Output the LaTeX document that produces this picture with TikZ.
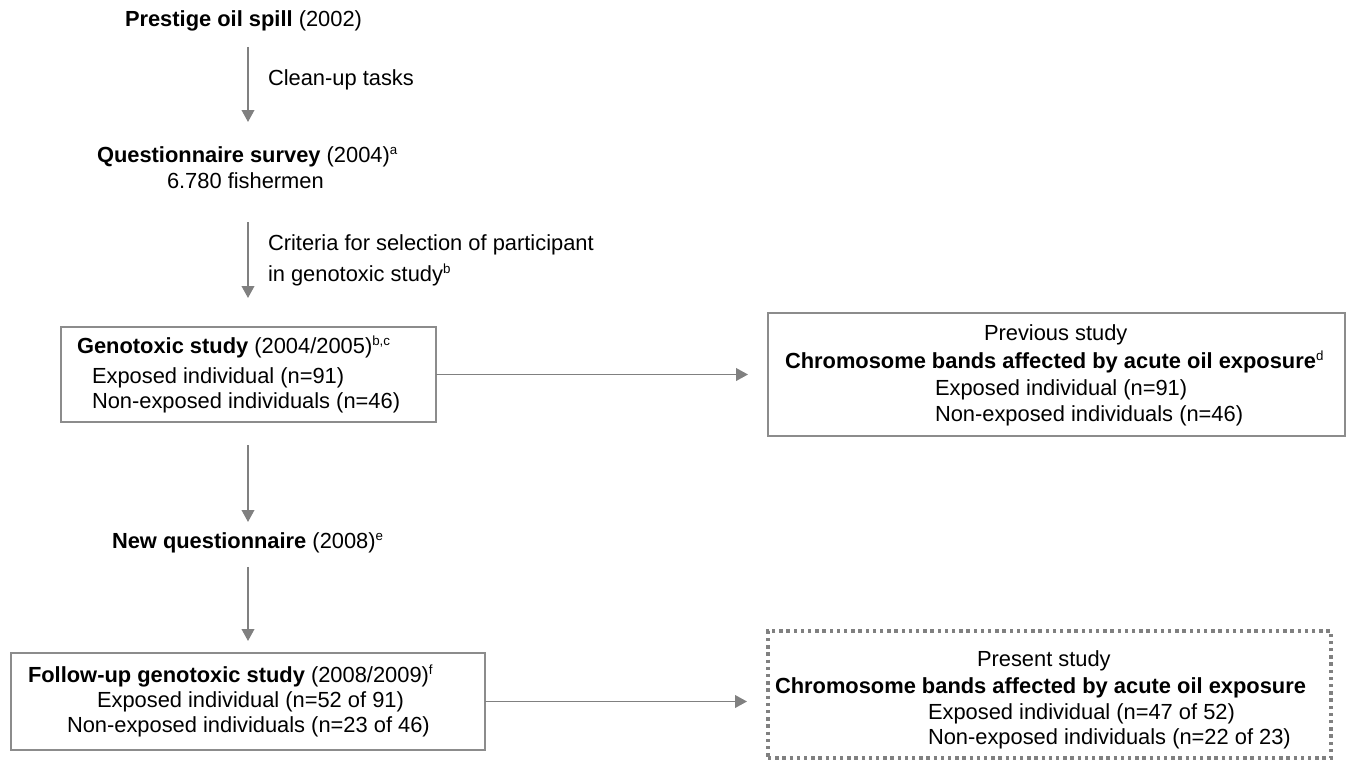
\documentclass[tikz,border=0pt]{standalone}
\usepackage{fontspec}
\setmainfont{Liberation Sans}
\usetikzlibrary{arrows.meta}
\definecolor{linegray}{RGB}{128,128,128}
\definecolor{boxgray}{RGB}{140,140,140}
\newcommand\sups[1]{\raisebox{6pt}{\fontsize{10pt}{11pt}\selectfont #1}}
\tikzset{
  txt/.style={inner sep=0pt, outer sep=0pt, anchor=base west, text height=12pt, text depth=3.5pt, font=\fontsize{16.4pt}{19pt}\selectfont},
  boxnode/.style={draw=boxgray, line width=1.1pt, inner sep=0pt, outer sep=0pt},
  dotbox/.style={draw=linegray, line width=2.4pt, dash pattern=on 2.6pt off 2.8pt, inner sep=0pt, outer sep=0pt},
  arr/.style={draw=linegray, line width=1.3pt, -{Triangle[width=9.5pt,length=9pt]}}
}
\begin{document}
\begin{tikzpicture}[x=0.75pt,y=-0.75pt]
\useasboundingbox (0,0) rectangle (1347,761);
\coordinate (ax) at (248,0);
% texts of the left column
\node[txt] (prestige) at (125,26) {\textbf{Prestige oil spill} (2002)};
\node[txt] (cleanup) at (268,85) {Clean-up tasks};
\node[txt] (quest) at (97,162) {\textbf{Questionnaire survey} (2004)\sups{a}};
\node[txt] (fish) at (167,188) {6.780 fishermen};
\node[txt] (crit1) at (268,250) {Criteria for selection of participant};
\node[txt] (crit2) at (268,281) {in genotoxic study\sups{b}};
% box 1
\node[boxnode, minimum width=281.25pt, minimum height=71.25pt] (b1) at (248.5,374.5) {};
\node[txt] (g1) at (77,353) {\textbf{Genotoxic study} (2004/2005)\sups{b,c}};
\node[txt] (g2) at (92,383) {Exposed individual (n=91)};
\node[txt] (g3) at (92,408) {Non-exposed individuals (n=46)};
% box 2
\node[boxnode, minimum width=432.75pt, minimum height=92.25pt] (b2) at (1056.5,374.5) {};
\node[txt] (p1) at (984,340) {Previous study};
\node[txt] (p2) at (785,368) {\textbf{Chromosome bands affected by acute oil exposure}\sups{d}};
\node[txt] (p3) at (935,395) {Exposed individual (n=91)};
\node[txt] (p4) at (935,421) {Non-exposed individuals (n=46)};
% new questionnaire
\node[txt] (newq) at (112,548) {\textbf{New questionnaire} (2008)\sups{e}};
% box 3
\node[boxnode, minimum width=355.5pt, minimum height=72.75pt] (b3) at (248,701.5) {};
\node[txt] (f1) at (28,682) {\textbf{Follow-up genotoxic study} (2008/2009)\sups{f}};
\node[txt] (f2) at (97,707) {Exposed individual (n=52 of 91)};
\node[txt] (f3) at (67,732) {Non-exposed individuals (n=23 of 46)};
% box 4 (dotted)
\node[dotbox, minimum width=422.25pt, minimum height=95.25pt] (b4) at (1049.5,694.5) {};
\node[txt] (s1) at (977,666) {Present study};
\node[txt] (s2) at (775,693) {\textbf{Chromosome bands affected by acute oil exposure}};
\node[txt] (s3) at (928,719) {Exposed individual (n=47 of 52)};
\node[txt] (s4) at (928,744) {Non-exposed individuals (n=22 of 23)};
% connectors
\draw[arr, shorten <=12.2pt, shorten >=18pt] (prestige.south -| ax) -- (quest.north -| ax);
\draw[arr, shorten <=22pt, shorten >=21.75pt] (fish.south -| ax) -- (b1.north -| ax);
\draw[arr, shorten <=17.25pt, shorten >=7.5pt] (b1.south -| ax) -- (newq.north -| ax);
\draw[arr, shorten <=10.7pt, shorten >=9pt] (newq.south -| ax) -- (b3.north -| ax);
\draw[arr, shorten >=15pt] (b1.east) -- (b2.west);
\draw[arr, shorten >=15.75pt] (b3.east) -- (b3.east -| b4.west);
\end{tikzpicture}
\end{document}
